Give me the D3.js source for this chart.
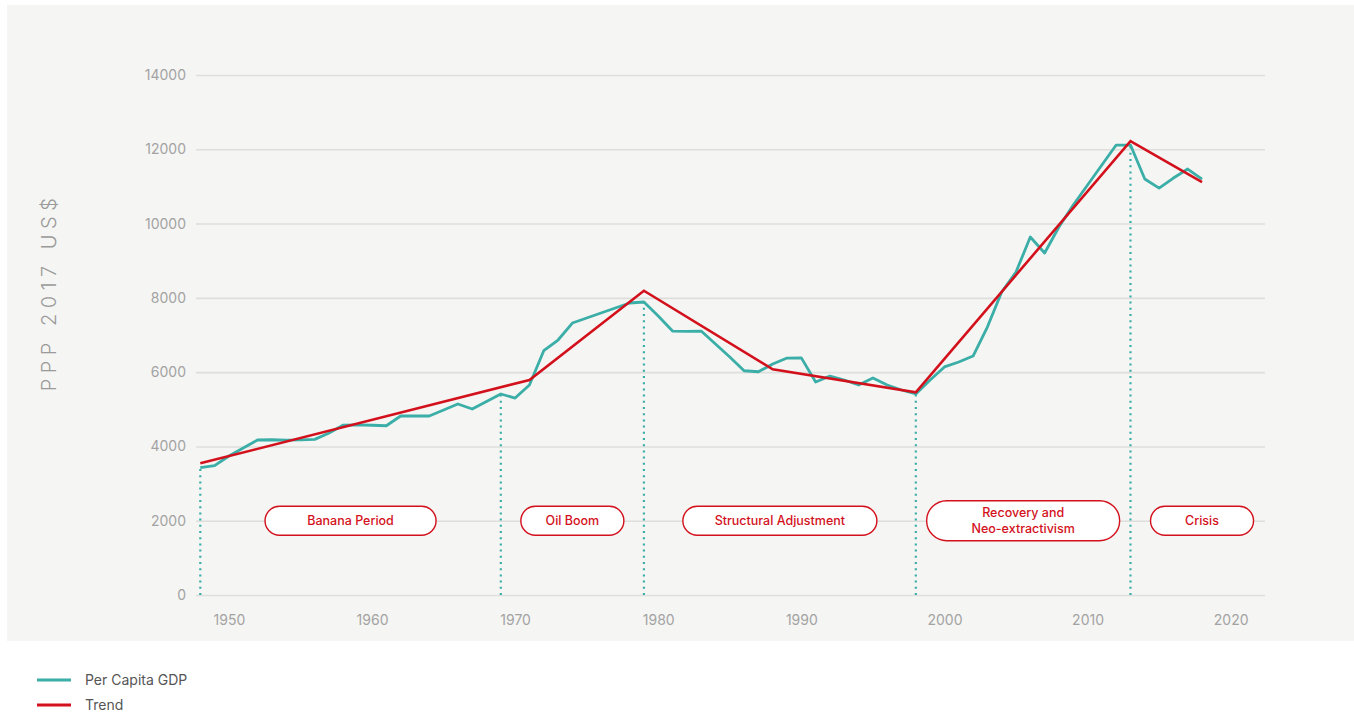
<!DOCTYPE html>
<html>
<head>
<meta charset="utf-8">
<script src="https://cdn.jsdelivr.net/npm/d3@7"></script>
<style>
  html, body { margin: 0; padding: 0; background: #fff; }
  svg { display: block; font-family: Inter, "Open Sans", sans-serif; }
</style>
</head>
<body>
<svg id="chart" width="1354" height="715"></svg>
<script>
// Per capita GDP (PPP 2017 US$), one value per year
const YEARS = [
  1948, 1949, 1950, 1951, 1952, 1953, 1954, 1955, 1956, 1957,
  1958, 1959, 1960, 1961, 1962, 1963, 1964, 1965, 1966, 1967,
  1968, 1969, 1970, 1971, 1972, 1973, 1974, 1975, 1976, 1977,
  1978, 1979, 1980, 1981, 1982, 1983, 1984, 1985, 1986, 1987,
  1988, 1989, 1990, 1991, 1992, 1993, 1994, 1995, 1996, 1997,
  1998, 1999, 2000, 2001, 2002, 2003, 2004, 2005, 2006, 2007,
  2008, 2009, 2010, 2011, 2012, 2013, 2014, 2015, 2016, 2017,
  2018,
];
const GDP = [
  3427, 3481, 3742, 3957, 4173, 4180, 4170, 4175, 4190, 4361,
  4576, 4580, 4570, 4557, 4819, 4825, 4819, 4980, 5142, 5007,
  5209, 5411, 5303, 5653, 6577, 6865, 7322, 7457, 7591, 7726,
  7861, 7888, 7511, 7107, 7100, 7107, 6757, 6407, 6038, 6011,
  6219, 6380, 6385, 5734, 5895, 5788, 5653, 5842, 5653, 5519,
  5411, 5788, 6140, 6272, 6434, 7215, 8157, 8695, 9637, 9207,
  9907, 10499, 11037, 11576, 12114, 12114, 11199, 10956, 11226, 11468,
  11199,
];

// piecewise trend
const TREND_YEARS = [1948, 1971, 1979, 1988, 1998, 2013, 2018];
const TREND_VALUES = [3545, 5788, 8192, 6076, 5457, 12222, 11118];

// periods (boundaries in years) and their names
const PERIOD_BOUNDS = [1948, 1969, 1979, 1998, 2013, 2023];
const PERIOD_NAMES = [
  ['Banana Period'],
  ['Oil Boom'],
  ['Structural Adjustment'],
  ['Recovery and', 'Neo-extractivism'],
  ['Crisis'],
];
const PERIOD_LABEL_VALUE = 2000;

const Y_TICKS = [0, 2000, 4000, 6000, 8000, 10000, 12000, 14000];
const X_TICKS = [1950, 1960, 1970, 1980, 1990, 2000, 2010, 2020];

const TEAL = '#3aaea7';
const RED = '#d3111c';
const GRID = '#dededc';
const TICK_C = '#a3a3a3';

// pill widths (layout only)
const PILL_W = [171, 103, 194, 193, 103];

const svg = d3.select('#chart');

const x = d3.scaleLinear().domain([1947.7, 2022.4]).range([196, 1265]);
const y = d3.scaleLinear().domain([0, 14000]).range([595, 75]);

// panel background
svg.append('rect')
  .attr('x', 7).attr('y', 5)
  .attr('width', 1347).attr('height', 636)
  .attr('fill', '#f5f5f3');

// horizontal grid + y labels
const yAxis = d3.axisLeft(y).tickValues(Y_TICKS)
  .tickSize(-(x.range()[1] - x.range()[0]))
  .tickPadding(10)
  .tickFormat(d3.format('d'));

const yg = svg.append('g')
  .attr('transform', `translate(${x.range()[0]},0)`)
  .call(yAxis);
yg.select('.domain').remove();
yg.selectAll('.tick line').attr('stroke', GRID).attr('stroke-width', 1.6);
yg.selectAll('.tick text')
  .attr('fill', TICK_C)
  .attr('font-size', 14)
  .attr('font-family', 'Inter, sans-serif');

// x labels
const xAxis = d3.axisBottom(x).tickValues(X_TICKS).tickSize(0).tickPadding(20)
  .tickFormat(d3.format('d'));
const xg = svg.append('g')
  .attr('transform', `translate(0,${y(0)})`)
  .call(xAxis);
xg.select('.domain').remove();
xg.selectAll('.tick text')
  .attr('fill', TICK_C)
  .attr('font-size', 14)
  .attr('font-family', 'Inter, sans-serif');

// y title
svg.append('text')
  .attr('transform', 'translate(56,292) rotate(-90)')
  .attr('text-anchor', 'middle')
  .attr('fill', '#9a9a9a')
  .attr('font-size', 20)
  .attr('font-weight', 300)
  .attr('letter-spacing', 5.5)
  .text('PPP 2017 US$');

const gdpAt = yr => GDP[YEARS.indexOf(yr)];

// dotted period boundaries, from 0 up to the gdp line
svg.append('g')
  .selectAll('line')
  .data(PERIOD_BOUNDS.slice(0, -1))
  .join('line')
  .attr('x1', d => x(d)).attr('x2', d => x(d))
  .attr('y1', y(0)).attr('y2', d => y(gdpAt(d)))
  .attr('stroke', TEAL)
  .attr('stroke-width', 2.2)
  .attr('stroke-dasharray', '2,4.2');

// gdp line
const series = YEARS.map((yr, i) => [yr, GDP[i]]);
svg.append('path')
  .datum(series)
  .attr('fill', 'none')
  .attr('stroke', TEAL)
  .attr('stroke-width', 2.8)
  .attr('stroke-linejoin', 'round')
  .attr('d', d3.line().x(d => x(d[0])).y(d => y(d[1])));

// trend line
const trend = TREND_YEARS.map((yr, i) => [yr, TREND_VALUES[i]]);
svg.append('path')
  .datum(trend)
  .attr('fill', 'none')
  .attr('stroke', RED)
  .attr('stroke-width', 2.6)
  .attr('d', d3.line().x(d => x(d[0])).y(d => y(d[1])));

// period pills
const pills = svg.append('g')
  .selectAll('g')
  .data(PERIOD_NAMES)
  .join('g')
  .attr('transform', (d, i) => {
    const cx = x((PERIOD_BOUNDS[i] + PERIOD_BOUNDS[i + 1]) / 2);
    return `translate(${cx},${y(PERIOD_LABEL_VALUE)})`;
  });

pills.append('rect')
  .attr('x', (d, i) => -PILL_W[i] / 2)
  .attr('y', d => d.length > 1 ? -20 : -14.5)
  .attr('width', (d, i) => PILL_W[i])
  .attr('height', d => d.length > 1 ? 40 : 29)
  .attr('rx', d => d.length > 1 ? 20 : 14.5)
  .attr('fill', '#fff')
  .attr('stroke', RED)
  .attr('stroke-width', 1.4);

pills.each(function (lines) {
  const t = d3.select(this).append('text')
    .attr('text-anchor', 'middle')
    .attr('fill', RED)
    .attr('font-size', 12.5)
    .attr('font-weight', 500);
  lines.forEach((ln, j) => {
    t.append('tspan')
      .attr('x', 0)
      .attr('y', (j - (lines.length - 1) / 2) * 16 + 4.5)
      .text(ln);
  });
});

// legend
const legend = [
  { label: 'Per Capita GDP', color: TEAL },
  { label: 'Trend', color: RED },
];
const lg = svg.append('g')
  .selectAll('g')
  .data(legend)
  .join('g')
  .attr('transform', (d, i) => `translate(37,${680 + i * 25})`);
lg.append('line')
  .attr('x1', 0).attr('x2', 34)
  .attr('stroke', d => d.color)
  .attr('stroke-width', 3);
lg.append('text')
  .attr('x', 48).attr('y', 5)
  .attr('fill', '#555')
  .attr('font-size', 14)
  .text(d => d.label);
</script>
</body>
</html>
